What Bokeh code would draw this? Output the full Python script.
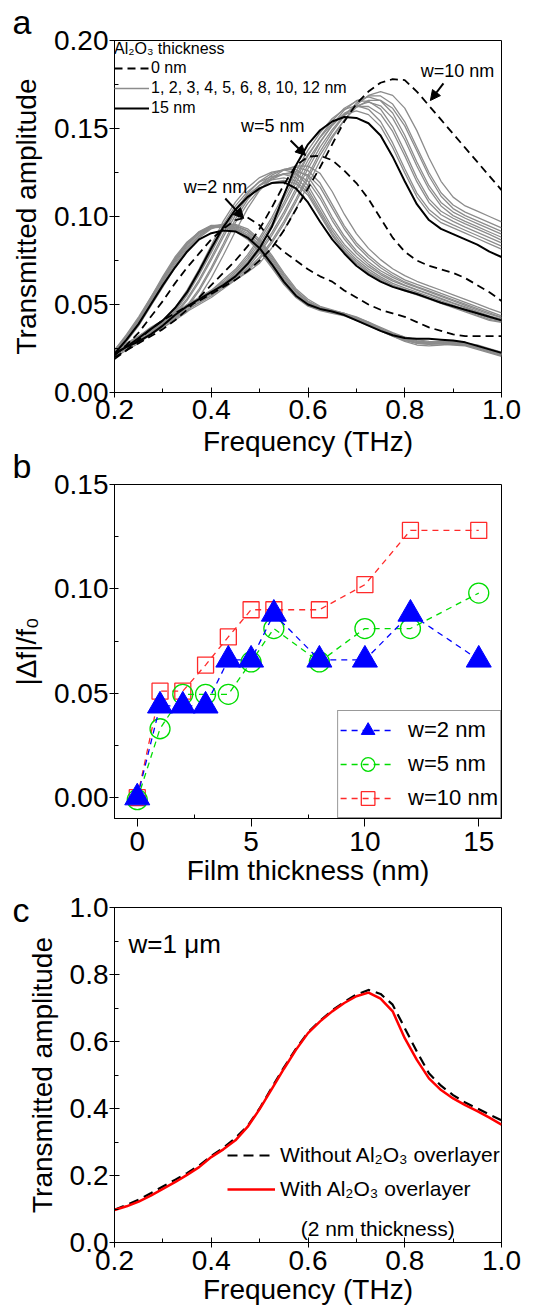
from bokeh.plotting import figure
from bokeh.layouts import column
from bokeh.models import (FixedTicker, NumeralTickFormatter, Legend, LegendItem,
                          Label, Arrow, NormalHead, Title)
from bokeh.embed import file_html
from bokeh.resources import INLINE

FONT = "Liberation Sans"

# ---------------- Panel a : transmitted amplitude vs frequency ----------------
freq = [0.200, 0.225, 0.250, 0.275, 0.300, 0.325, 0.350, 0.375, 0.400, 0.425, 0.450,
        0.475, 0.500, 0.525, 0.550, 0.575, 0.600, 0.625, 0.650, 0.675, 0.700, 0.725,
        0.750, 0.775, 0.800, 0.825, 0.850, 0.875, 0.900, 0.925, 0.950, 0.975, 1.000]

# w = 2 nm gap
w2_0nm = [0.021, 0.027, 0.034, 0.043, 0.052, 0.062, 0.071, 0.079, 0.087, 0.093, 0.098,
          0.0995, 0.095, 0.086, 0.080, 0.075, 0.070, 0.066, 0.063, 0.058, 0.054, 0.050,
          0.047, 0.045, 0.043, 0.040, 0.037, 0.035, 0.033, 0.032, 0.032, 0.032, 0.032]
w2_1nm = [0.021, 0.029, 0.038, 0.049, 0.060, 0.071, 0.080, 0.088, 0.093, 0.0955, 0.0955,
          0.093, 0.087, 0.078, 0.068, 0.059, 0.053, 0.049, 0.047, 0.045, 0.042, 0.039,
          0.036, 0.033, 0.030, 0.028, 0.0275, 0.028, 0.028, 0.027, 0.026, 0.024, 0.022]
w2_2nm = [0.022, 0.030, 0.039, 0.050, 0.061, 0.072, 0.081, 0.089, 0.0935, 0.0955, 0.095,
          0.092, 0.086, 0.077, 0.067, 0.058, 0.052, 0.0485, 0.0465, 0.0445, 0.042, 0.039,
          0.036, 0.0335, 0.031, 0.029, 0.028, 0.0285, 0.0285, 0.0275, 0.0265, 0.0245, 0.0225]
w2_3nm = [0.022, 0.030, 0.040, 0.051, 0.062, 0.073, 0.082, 0.089, 0.094, 0.095, 0.0945,
          0.0915, 0.0855, 0.076, 0.066, 0.0575, 0.0515, 0.048, 0.046, 0.0445, 0.0425, 0.040,
          0.037, 0.034, 0.0315, 0.0295, 0.0285, 0.029, 0.029, 0.028, 0.027, 0.025, 0.023]
w2_4nm = [0.023, 0.031, 0.041, 0.052, 0.063, 0.074, 0.083, 0.090, 0.094, 0.0955, 0.094,
          0.0905, 0.084, 0.075, 0.065, 0.057, 0.051, 0.048, 0.0465, 0.045, 0.043, 0.040,
          0.0365, 0.033, 0.030, 0.028, 0.0275, 0.028, 0.0285, 0.028, 0.0265, 0.0245, 0.022]
w2_5nm = [0.023, 0.031, 0.041, 0.052, 0.064, 0.075, 0.084, 0.091, 0.0945, 0.0955, 0.0935,
          0.0895, 0.083, 0.074, 0.064, 0.056, 0.0505, 0.0475, 0.046, 0.0445, 0.042, 0.039,
          0.036, 0.0335, 0.0315, 0.030, 0.029, 0.0285, 0.028, 0.027, 0.0255, 0.0235, 0.0215]
w2_6nm = [0.024, 0.032, 0.042, 0.053, 0.065, 0.076, 0.085, 0.0915, 0.095, 0.095, 0.0925,
          0.088, 0.081, 0.072, 0.0625, 0.055, 0.050, 0.0475, 0.046, 0.0445, 0.042, 0.0385,
          0.035, 0.032, 0.029, 0.027, 0.0265, 0.027, 0.0275, 0.027, 0.0255, 0.0235, 0.0215]
w2_8nm = [0.023, 0.031, 0.041, 0.053, 0.064, 0.075, 0.084, 0.091, 0.0945, 0.095, 0.093,
          0.089, 0.082, 0.073, 0.063, 0.0555, 0.0505, 0.048, 0.0465, 0.045, 0.0425, 0.0395,
          0.036, 0.033, 0.0305, 0.029, 0.0285, 0.0285, 0.028, 0.0275, 0.026, 0.024, 0.022]
w2_10nm = [0.024, 0.032, 0.042, 0.054, 0.065, 0.076, 0.085, 0.091, 0.094, 0.0945, 0.092,
           0.0875, 0.0805, 0.0715, 0.062, 0.0545, 0.0495, 0.047, 0.0455, 0.044, 0.0415, 0.0385,
           0.0355, 0.0325, 0.030, 0.0285, 0.028, 0.028, 0.0275, 0.027, 0.025, 0.023, 0.021]
w2_12nm = [0.024, 0.033, 0.043, 0.054, 0.066, 0.077, 0.0855, 0.091, 0.0935, 0.094, 0.0915,
           0.087, 0.080, 0.071, 0.0615, 0.054, 0.049, 0.0465, 0.045, 0.0435, 0.041, 0.038,
           0.035, 0.032, 0.0295, 0.028, 0.0275, 0.0275, 0.027, 0.0265, 0.0245, 0.0225, 0.0205]
w2_15nm = [0.022, 0.030, 0.039, 0.050, 0.061, 0.071, 0.080, 0.087, 0.0905, 0.092, 0.0915,
           0.088, 0.082, 0.073, 0.063, 0.055, 0.050, 0.0475, 0.046, 0.044, 0.041, 0.038,
           0.035, 0.0325, 0.031, 0.0305, 0.0305, 0.030, 0.0295, 0.0285, 0.0265, 0.0245, 0.0225]

# w = 5 nm gap
w5_0nm = [0.020, 0.024, 0.028, 0.032, 0.036, 0.041, 0.047, 0.054, 0.061, 0.068, 0.075,
          0.083, 0.093, 0.105, 0.118, 0.129, 0.134, 0.1345, 0.132, 0.126, 0.119, 0.110,
          0.099, 0.088, 0.080, 0.075, 0.072, 0.070, 0.068, 0.065, 0.061, 0.057, 0.052]
w5_1nm = [0.020, 0.024, 0.028, 0.033, 0.037, 0.041, 0.0458, 0.0542, 0.0651, 0.0780, 0.0916,
          0.1045, 0.1148, 0.1219, 0.1264, 0.1287, 0.1286, 0.1245, 0.1142, 0.1013, 0.0903, 0.0819,
          0.0755, 0.0703, 0.0664, 0.0632, 0.0606, 0.0581, 0.0555, 0.0529, 0.0503, 0.0477, 0.0452]
w5_2nm = [0.021, 0.025, 0.029, 0.033, 0.038, 0.043, 0.0493, 0.0589, 0.0710, 0.0845, 0.0986,
          0.1094, 0.1178, 0.1235, 0.1267, 0.1280, 0.1261, 0.1190, 0.1069, 0.0947, 0.0851, 0.0781,
          0.0723, 0.0678, 0.0640, 0.0614, 0.0589, 0.0563, 0.0538, 0.0512, 0.0486, 0.0461, 0.0435]
w5_3nm = [0.021, 0.025, 0.029, 0.034, 0.038, 0.042, 0.0483, 0.0577, 0.0697, 0.0828, 0.0966,
          0.1073, 0.1155, 0.1211, 0.1242, 0.1255, 0.1236, 0.1167, 0.1048, 0.0929, 0.0835, 0.0766,
          0.0709, 0.0665, 0.0628, 0.0602, 0.0577, 0.0552, 0.0527, 0.0502, 0.0477, 0.0452, 0.0427]
w5_4nm = [0.021, 0.025, 0.030, 0.034, 0.039, 0.045, 0.0533, 0.0641, 0.0768, 0.0902, 0.1029,
          0.1130, 0.1200, 0.1245, 0.1267, 0.1266, 0.1226, 0.1124, 0.0997, 0.0889, 0.0806, 0.0743,
          0.0692, 0.0654, 0.0622, 0.0597, 0.0572, 0.0546, 0.0521, 0.0495, 0.0470, 0.0445, 0.0425]
w5_5nm = [0.022, 0.026, 0.030, 0.035, 0.039, 0.044, 0.0523, 0.0629, 0.0753, 0.0884, 0.1008,
          0.1108, 0.1177, 0.1220, 0.1243, 0.1241, 0.1201, 0.1102, 0.0977, 0.0872, 0.0791, 0.0728,
          0.0679, 0.0641, 0.0610, 0.0585, 0.0560, 0.0535, 0.0510, 0.0486, 0.0461, 0.0436, 0.0417]
w5_6nm = [0.022, 0.026, 0.031, 0.036, 0.041, 0.047, 0.0570, 0.0688, 0.0818, 0.0955, 0.1060,
          0.1141, 0.1197, 0.1228, 0.1240, 0.1221, 0.1153, 0.1035, 0.0918, 0.0825, 0.0756, 0.0701,
          0.0657, 0.0620, 0.0595, 0.0570, 0.0546, 0.0521, 0.0496, 0.0471, 0.0446, 0.0422, 0.0409]
w5_8nm = [0.023, 0.027, 0.031, 0.036, 0.041, 0.048, 0.0582, 0.0702, 0.0835, 0.0974, 0.1082,
          0.1164, 0.1221, 0.1252, 0.1265, 0.1246, 0.1176, 0.1056, 0.0936, 0.0841, 0.0772, 0.0715,
          0.0670, 0.0633, 0.0607, 0.0582, 0.0557, 0.0531, 0.0506, 0.0481, 0.0455, 0.0430, 0.0417]
w5_10nm = [0.022, 0.026, 0.030, 0.035, 0.040, 0.046, 0.0561, 0.0677, 0.0805, 0.0939, 0.1043,
           0.1122, 0.1177, 0.1208, 0.1220, 0.1202, 0.1135, 0.1019, 0.0903, 0.0811, 0.0744, 0.0689,
           0.0647, 0.0610, 0.0586, 0.0561, 0.0537, 0.0512, 0.0488, 0.0464, 0.0439, 0.0415, 0.0403]
w5_12nm = [0.022, 0.026, 0.031, 0.035, 0.040, 0.046, 0.0554, 0.0669, 0.0795, 0.0928, 0.1030,
           0.1109, 0.1163, 0.1193, 0.1205, 0.1187, 0.1121, 0.1006, 0.0892, 0.0801, 0.0735, 0.0681,
           0.0639, 0.0603, 0.0578, 0.0554, 0.0530, 0.0506, 0.0482, 0.0458, 0.0434, 0.0410, 0.0398]
w5_15nm = [0.022, 0.026, 0.031, 0.036, 0.041, 0.048, 0.057, 0.069, 0.082, 0.094, 0.104,
           0.111, 0.116, 0.119, 0.1195, 0.116, 0.108, 0.097, 0.087, 0.079, 0.072, 0.067,
           0.063, 0.060, 0.058, 0.056, 0.0535, 0.051, 0.049, 0.047, 0.045, 0.043, 0.041]

# w = 10 nm gap
w10_0nm = [0.019, 0.024, 0.030, 0.036, 0.041, 0.045, 0.049, 0.052, 0.056, 0.060, 0.064,
           0.069, 0.075, 0.082, 0.092, 0.104, 0.116, 0.128, 0.141, 0.154, 0.164, 0.171,
           0.176, 0.178, 0.1775, 0.171, 0.163, 0.155, 0.147, 0.139, 0.131, 0.123, 0.115]
w10_1nm = [0.021, 0.025, 0.029, 0.034, 0.038, 0.042, 0.046, 0.050, 0.054, 0.059, 0.064,
           0.0684, 0.0735, 0.0821, 0.0923, 0.1043, 0.1180, 0.1317, 0.1445, 0.1548, 0.1633, 0.1688,
           0.1710, 0.1688, 0.1616, 0.1488, 0.1334, 0.1200, 0.1110, 0.1060, 0.1030, 0.1000, 0.0970]
w10_2nm = [0.022, 0.026, 0.030, 0.034, 0.038, 0.043, 0.047, 0.051, 0.055, 0.060, 0.065,
           0.0701, 0.0769, 0.0862, 0.0972, 0.1099, 0.1234, 0.1369, 0.1479, 0.1572, 0.1644, 0.1685,
           0.1685, 0.1639, 0.1538, 0.1394, 0.1250, 0.1135, 0.1065, 0.1025, 0.0995, 0.0965, 0.0935]
w10_3nm = [0.022, 0.026, 0.030, 0.035, 0.039, 0.043, 0.047, 0.051, 0.055, 0.060, 0.064,
           0.0691, 0.0758, 0.0849, 0.0957, 0.1082, 0.1215, 0.1349, 0.1457, 0.1548, 0.1620, 0.1660,
           0.1660, 0.1615, 0.1515, 0.1374, 0.1230, 0.1115, 0.1045, 0.1005, 0.0975, 0.0945, 0.0915]
w10_4nm = [0.023, 0.027, 0.031, 0.035, 0.039, 0.044, 0.048, 0.052, 0.056, 0.061, 0.066,
           0.0722, 0.0806, 0.0907, 0.1025, 0.1159, 0.1294, 0.1420, 0.1520, 0.1604, 0.1658, 0.1680,
           0.1658, 0.1588, 0.1462, 0.1310, 0.1175, 0.1080, 0.1025, 0.0990, 0.0960, 0.0930, 0.0900]
w10_5nm = [0.022, 0.026, 0.031, 0.035, 0.040, 0.044, 0.048, 0.052, 0.056, 0.060, 0.065,
           0.0710, 0.0792, 0.0891, 0.1007, 0.1139, 0.1271, 0.1394, 0.1493, 0.1576, 0.1629, 0.1650,
           0.1629, 0.1559, 0.1436, 0.1287, 0.1155, 0.1060, 0.1005, 0.0972, 0.0942, 0.0912, 0.0882]
w10_6nm = [0.023, 0.027, 0.031, 0.036, 0.040, 0.044, 0.049, 0.053, 0.057, 0.062, 0.068,
           0.0755, 0.0847, 0.0955, 0.1079, 0.1212, 0.1345, 0.1453, 0.1544, 0.1615, 0.1655, 0.1655,
           0.1610, 0.1511, 0.1370, 0.1220, 0.1100, 0.1030, 0.0990, 0.0958, 0.0928, 0.0898, 0.0866]
w10_8nm = [0.024, 0.028, 0.032, 0.036, 0.040, 0.045, 0.049, 0.053, 0.057, 0.062, 0.067,
           0.0742, 0.0831, 0.0937, 0.1060, 0.1190, 0.1320, 0.1426, 0.1516, 0.1586, 0.1625, 0.1625,
           0.1581, 0.1483, 0.1345, 0.1198, 0.1080, 0.1010, 0.0972, 0.0940, 0.0910, 0.0880, 0.0850]
w10_10nm = [0.023, 0.027, 0.032, 0.037, 0.041, 0.045, 0.050, 0.054, 0.058, 0.064, 0.070,
            0.0782, 0.0880, 0.0994, 0.1125, 0.1255, 0.1377, 0.1475, 0.1557, 0.1609, 0.1630, 0.1609,
            0.1540, 0.1418, 0.1271, 0.1133, 0.1040, 0.0985, 0.0952, 0.0922, 0.0892, 0.0862, 0.0832]
w10_12nm = [0.024, 0.028, 0.032, 0.036, 0.041, 0.045, 0.049, 0.054, 0.058, 0.063, 0.069,
            0.0768, 0.0864, 0.0976, 0.1104, 0.1232, 0.1352, 0.1448, 0.1528, 0.1579, 0.1600, 0.1579,
            0.1512, 0.1392, 0.1248, 0.1112, 0.1020, 0.0965, 0.0935, 0.0905, 0.0875, 0.0845, 0.0815]
w10_15nm = [0.022, 0.026, 0.029, 0.033, 0.038, 0.044, 0.049, 0.053, 0.057, 0.061, 0.066,
            0.073, 0.082, 0.094, 0.112, 0.129, 0.141, 0.149, 0.154, 0.1565, 0.156, 0.153,
            0.146, 0.134, 0.120, 0.107, 0.098, 0.093, 0.090, 0.087, 0.084, 0.080, 0.077]

# ---------------- Panel b : relative frequency shift ----------------
thickness = [0, 1, 2, 3, 4, 5, 6, 8, 10, 12, 15]
shift_w2 = [0.000, 0.044, 0.044, 0.044, 0.066, 0.066, 0.088, 0.066, 0.066, 0.088, 0.066]
shift_w5 = [-0.001, 0.033, 0.0495, 0.0495, 0.0495, 0.065, 0.081, 0.065, 0.081, 0.081, 0.098]
shift_w10 = [0.000, 0.051, 0.051, 0.0635, 0.077, 0.090, 0.090, 0.090, 0.102, 0.128, 0.128]

# ---------------- Panel c : w = 1 um ----------------
c_without = [0.098, 0.112, 0.128, 0.147, 0.167, 0.187, 0.207, 0.230, 0.258, 0.283, 0.312,
             0.348, 0.400, 0.462, 0.522, 0.578, 0.627, 0.662, 0.693, 0.718, 0.740, 0.754,
             0.742, 0.710, 0.640, 0.570, 0.505, 0.468, 0.440, 0.418, 0.400, 0.382, 0.365]
c_with = [0.097, 0.108, 0.122, 0.140, 0.160, 0.180, 0.202, 0.225, 0.255, 0.278, 0.305,
          0.345, 0.398, 0.458, 0.518, 0.575, 0.625, 0.660, 0.690, 0.715, 0.735, 0.746,
          0.728, 0.690, 0.610, 0.545, 0.490, 0.455, 0.430, 0.410, 0.392, 0.373, 0.352]

GREY = "#8c8c8c"


def style_letter(t, txt):
    t.text = txt
    t.align = "left"
    t.offset = -102
    t.standoff = 0
    t.text_font = FONT
    t.text_font_size = "34px"
    t.text_font_style = "normal"
    t.text_color = "black"


def make_fig(xr, yr, frame_h, bottom, letter, top_margin):
    p = figure(x_range=xr, y_range=yr, frame_width=387, frame_height=frame_h,
               min_border_left=114, min_border_right=30, min_border_top=46,
               min_border_bottom=bottom, output_backend="svg", toolbar_location=None,
               tools="")
    p.margin = (top_margin, 0, 0, 0)
    p.grid.visible = False
    p.outline_line_color = "black"
    p.outline_line_width = 1
    p.border_fill_color = None
    p.background_fill_color = "white"
    style_letter(p.title, letter)
    return p


def style_axis(ax, ticks, minor, fmt, label, t_in, t_out, m_in, m_out, lab_so, ax_so):
    ax.ticker = FixedTicker(ticks=ticks, minor_ticks=minor)
    ax.formatter = NumeralTickFormatter(format=fmt)
    ax.axis_label = label
    ax.axis_label_text_font = FONT
    ax.axis_label_text_font_size = "28px"
    ax.axis_label_text_font_style = "normal"
    ax.axis_label_text_color = "black"
    ax.major_label_text_font = FONT
    ax.major_label_text_font_size = "28px"
    ax.major_label_text_color = "black"
    ax.axis_line_color = "black"
    ax.major_tick_line_color = "black"
    ax.minor_tick_line_color = "black"
    ax.major_tick_in = t_in
    ax.major_tick_out = t_out
    ax.minor_tick_in = m_in
    ax.minor_tick_out = m_out
    ax.major_label_standoff = lab_so
    ax.axis_label_standoff = ax_so


# ================= Panel a =================
pa = make_fig((0.2, 1.0), (0.0, 0.2), 352, 78, "a", -6)
style_axis(pa.xaxis[0], [0.2, 0.4, 0.6, 0.8, 1.0], [0.3, 0.5, 0.7, 0.9], "0.0",
           "Frequency (THz)", 5, 5, 4, 0, 2, 4)
style_axis(pa.yaxis[0], [0.0, 0.05, 0.10, 0.15, 0.20], [0.025, 0.075, 0.125, 0.175], "0.00",
           "Transmitted amplitude", 5, 5, 4, 0, 1, 9)

greys = [w2_1nm, w2_2nm, w2_3nm, w2_4nm, w2_5nm, w2_6nm, w2_8nm, w2_10nm, w2_12nm,
         w5_1nm, w5_2nm, w5_3nm, w5_4nm, w5_5nm, w5_6nm, w5_8nm, w5_10nm, w5_12nm,
         w10_1nm, w10_2nm, w10_3nm, w10_4nm, w10_5nm, w10_6nm, w10_8nm, w10_10nm, w10_12nm]
r_grey = pa.multi_line(xs=[freq] * len(greys), ys=greys, line_color=GREY, line_width=1.3)
r_black = None
for ys in (w2_15nm, w5_15nm, w10_15nm):
    r_black = pa.line(freq, ys, line_color="black", line_width=2.0)
r_dash = None
for ys in (w2_0nm, w5_0nm, w10_0nm):
    r_dash = pa.line(freq, ys, line_color="black", line_width=1.8, line_dash="8 5")

leg_a = Legend(items=[LegendItem(label="0 nm", renderers=[r_dash]),
                      LegendItem(label="1, 2, 3, 4, 5, 6, 8, 10, 12 nm", renderers=[r_grey]),
                      LegendItem(label="15 nm", renderers=[r_black])],
               location="top_left", title="Al\u2082O\u2083 thickness",
               title_text_font=FONT, title_text_font_size="16px",
               title_text_font_style="normal", title_text_color="black", title_standoff=0,
               label_text_font=FONT, label_text_font_size="16px", label_text_color="black",
               border_line_color=None, background_fill_alpha=0, margin=0, padding=5,
               spacing=0, label_height=20, glyph_height=20, glyph_width=35,
               label_standoff=2)
pa.add_layout(leg_a)

for txt, x, y in (("w=10 nm", 0.909, 0.1824), ("w=5 nm", 0.527, 0.1517), ("w=2 nm", 0.409, 0.1165)):
    pa.add_layout(Label(x=x, y=y, text=txt, text_font=FONT, text_font_size="18px",
                        text_align="center", text_baseline="middle", text_color="black"))
for xs, ysa, xe, ye in ((0.880, 0.1756, 0.853, 0.1659),
                        (0.564, 0.1432, 0.595, 0.1347),
                        (0.429, 0.1102, 0.467, 0.0989)):
    pa.add_layout(Arrow(end=NormalHead(size=10, fill_color="black", line_color="black"),
                        x_start=xs, y_start=ysa, x_end=xe, y_end=ye,
                        line_color="black", line_width=2))

# ================= Panel b =================
pb = make_fig((-1, 16), (-0.01, 0.15), 334, 112, "b", -32)
style_axis(pb.xaxis[0], [0, 5, 10, 15], [2.5, 7.5, 12.5], "0",
           "Film thickness (nm)", 0, 8, 4, 0, 5, 1)
style_axis(pb.yaxis[0], [0.0, 0.05, 0.10, 0.15], [0.025, 0.075, 0.125], "0.00",
           "|\u0394f|/f\u2080", 4, 5, 4, 0, 1, 9)
# panel letter "c" sits just under panel b's axis title
letter_c = Title()
style_letter(letter_c, "c")
pb.add_layout(letter_c, "below")

RED, GREEN, BLUE = "#ff2a2a", "#00dd00", "#0000ff"
l10 = pb.line(thickness, shift_w10, line_color=RED, line_width=1.3, line_dash="6 5")
s10 = pb.scatter(thickness, shift_w10, marker="square", size=16, fill_color=None,
                 line_color=RED, line_width=1.3)
l5 = pb.line(thickness, shift_w5, line_color=GREEN, line_width=1.3, line_dash="6 5")
s5 = pb.scatter(thickness, shift_w5, marker="circle", size=20, fill_color=None,
                line_color=GREEN, line_width=1.3)
l2 = pb.line(thickness, shift_w2, line_color=BLUE, line_width=1.3, line_dash="6 5")
s2 = pb.scatter(thickness, shift_w2, marker="triangle", size=25, fill_color=BLUE,
                line_color=BLUE)
leg_b = Legend(items=[LegendItem(label="w=2 nm", renderers=[l2, s2]),
                      LegendItem(label="w=5 nm", renderers=[l5, s5]),
                      LegendItem(label="w=10 nm", renderers=[l10, s10])],
               location="bottom_right", margin=0, padding=2, spacing=-4,
               label_height=24, glyph_height=34, glyph_width=55, label_standoff=13,
               label_text_font=FONT, label_text_font_size="22px", label_text_color="black",
               border_line_color="#333333", border_line_width=1,
               background_fill_color="white", background_fill_alpha=1)
pb.add_layout(leg_b)

# ================= Panel c =================
pc = make_fig((0.2, 1.0), (0.0, 1.0), 335, 65, "", -69)
style_axis(pc.xaxis[0], [0.2, 0.4, 0.6, 0.8, 1.0], [0.3, 0.5, 0.7, 0.9], "0.0",
           "Frequency (THz)", 5, 5, 4, 0, 3, 1)
style_axis(pc.yaxis[0], [0.0, 0.2, 0.4, 0.6, 0.8, 1.0], [0.1, 0.3, 0.5, 0.7, 0.9], "0.0",
           "Transmitted amplitude", 5, 5, 4, 0, 1, 9)
rc_dash = pc.line(freq, c_without, line_color="black", line_width=2.2, line_dash="10 6")
rc_red = pc.line(freq, c_with, line_color="#ff0000", line_width=2.5)
leg_c = Legend(items=[LegendItem(label="Without Al\u2082O\u2083 overlayer", renderers=[rc_dash]),
                      LegendItem(label="With Al\u2082O\u2083 overlayer", renderers=[rc_red])],
               location=(113, 41), margin=0, padding=0, spacing=10,
               label_height=22, glyph_height=22, glyph_width=48, label_standoff=5,
               label_text_font=FONT, label_text_font_size="21px", label_text_color="black",
               border_line_color=None, background_fill_alpha=0)
pc.add_layout(leg_c)
pc.add_layout(Label(x=0.744, y=0.042, text="(2 nm thickness)", text_font=FONT,
                    text_font_size="21px", text_align="center", text_baseline="alphabetic",
                    text_color="black"))
pc.add_layout(Label(x=0.229, y=0.8925, text="w=1 \u03bcm", text_font=FONT,
                    text_font_size="26px", text_align="left", text_baseline="alphabetic",
                    text_color="black"))

layout = column(pa, pb, pc, spacing=0)
open("out.html", "w").write(file_html(layout, INLINE))
